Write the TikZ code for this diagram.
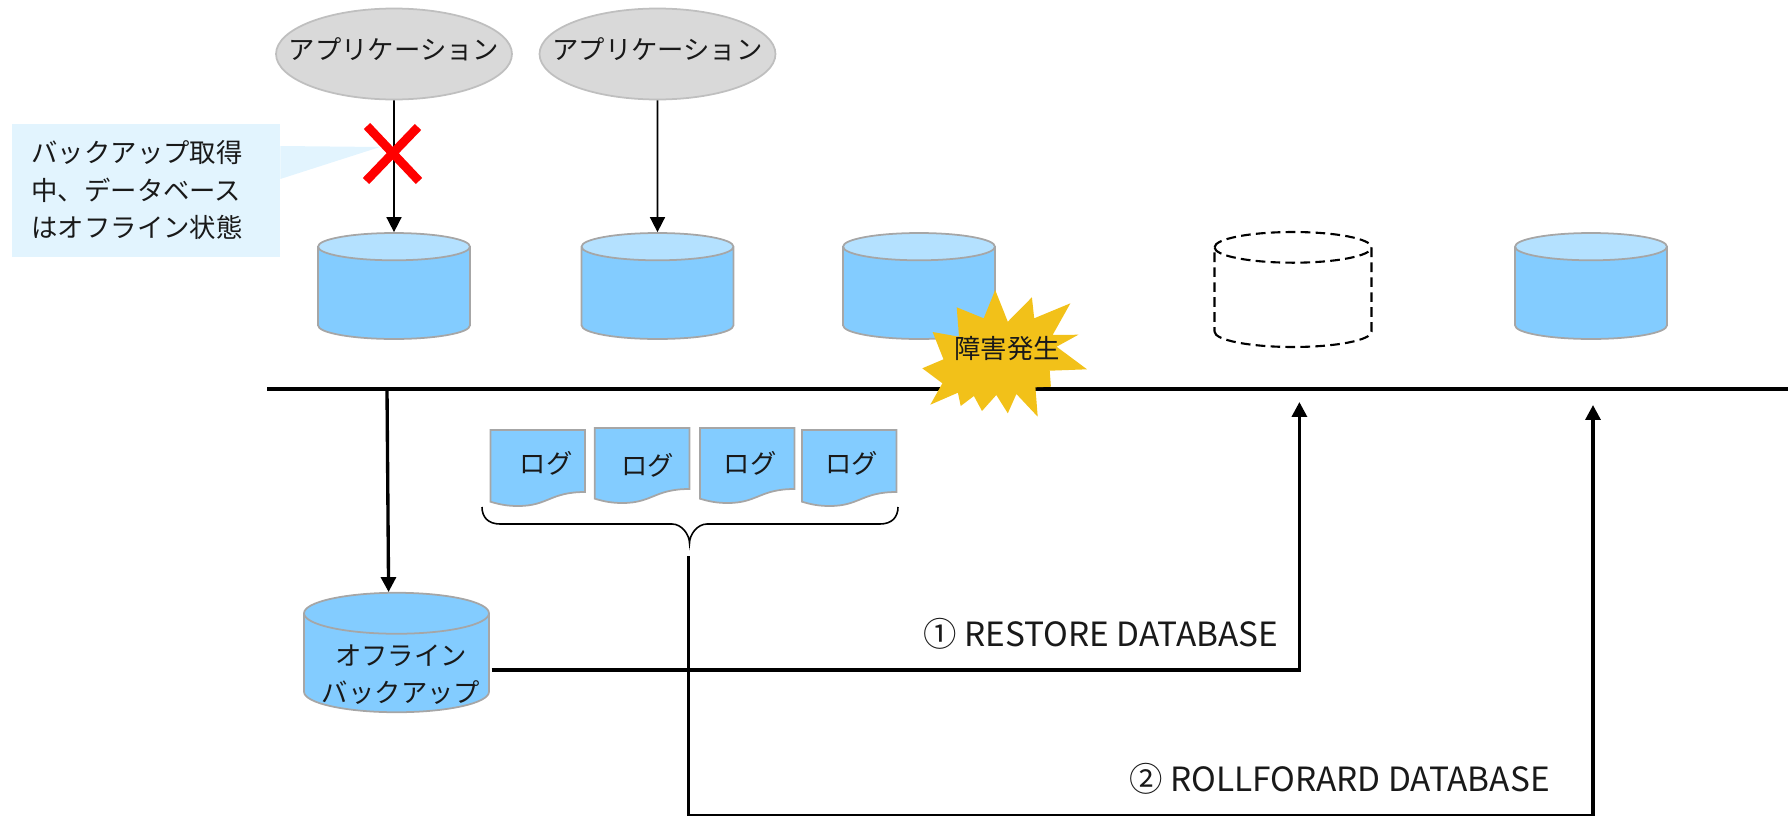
\documentclass[tikz,border=0pt]{standalone}
\usepackage{fontspec}
\setmainfont{Noto Sans CJK JP}
\usetikzlibrary{arrows.meta,shapes.geometric}
\definecolor{dbblue}{HTML}{83CCFF}
\definecolor{dbtop}{HTML}{B4E1FF}
\definecolor{dbline}{HTML}{A6A6A6}
\definecolor{appgrey}{HTML}{D9D9D9}
\definecolor{appline}{HTML}{BFBFBF}
\definecolor{noteblue}{HTML}{E2F4FE}
\definecolor{burstyellow}{HTML}{F2C119}
\begin{document}
\begin{tikzpicture}[%
    x=0.02cm,y=-0.02cm,
    txt/.style={font=\fontsize{15}{21.5}\selectfont,align=center,inner sep=0pt,text=black!90},
    biglabel/.style={font=\fontsize{19}{23}\selectfont,inner sep=0pt,text=black!90},
    app/.style={txt,ellipse,draw=appline,fill=appgrey,line width=1pt,minimum width=4.72cm,minimum height=1.82cm,inner xsep=-12.6pt,inner ysep=0pt,text depth=6pt},
    db/.style={cylinder,anchor=shape center,shape border rotate=90,shape aspect=2.33,draw=dbline,line width=1pt,cylinder uses custom fill,cylinder body fill=dbblue,cylinder end fill=dbtop,minimum width=3.04cm,minimum height=2.12cm},
    thinarrow/.style={-{Triangle[length=8.5pt,width=8.5pt]},line width=0.9pt},
    fatarrow/.style={-{Triangle[length=8.5pt,width=8.5pt]},line width=1.9pt},
    logdoc/.style={draw=dbline,fill=dbblue,line width=1pt}
  ]
		\useasboundingbox (0,0) rectangle (1788,815);

		\node at (394,54) [app] (app1) {アプリケーション};
		\node at (657.5,54) [app] (app2) {アプリケーション};

		\node at (394,286) [db] (db1) {};
		\node at (657.5,286) [db] (db2) {};
		\node at (919,286) [db] (db3) {};
		\node at (1293,289.5) [cylinder,anchor=shape center,shape border rotate=90,shape aspect=2.62,draw,dash pattern=on 5.5pt off 3pt,line width=1.2pt,minimum width=3.14cm,minimum height=2.3cm] (db4) {};
		\node at (1591,286) [db] (db5) {};

		\draw[thinarrow] (app1.south) -- (db1.north);
		\draw[thinarrow] (app2.south) -- (db2.north);

		\node at (146,190.5) [rectangle,fill=noteblue,minimum width=5.36cm,minimum height=2.66cm,inner sep=0pt] (note) {};
		\coordinate (notetip) at (380,147);
		\fill[noteblue] (note.east |- 0,146) -- (notetip) -- (note.east |- 0,179) -- cycle;
		\node at (137,190) [txt,align=left] (notetext) {バックアップ取得\\中、データベース\\はオフライン状態};

		\draw[red,line width=5pt] (367,126) -- (419,181);
		\draw[red,line width=5pt] (418,127) -- (366,181);

		\coordinate (linestart) at (267,389);
		\coordinate (lineend) at (1788,389);
		\draw[line width=2.3pt] (linestart) -- (lineend);

		\fill[burstyellow] (995.2,290) -- (1007.8,321.7) -- (1031.9,297.3) -- (1034.2,318.3) -- (1070.4,303.3) -- (1052.6,335) -- (1078.4,334.7) -- (1056.6,346.7) -- (1087,369.3) -- (1049.7,370.7) -- (1050.9,386.7) -- (1035.4,387.3) -- (1037.7,416.7) -- (1016.4,394) -- (1007.8,413.3) -- (996.3,395) -- (982,411) -- (973.9,396) -- (960.7,406) -- (957.9,392.7) -- (930.3,404.7) -- (942.4,383.3) -- (922.3,368.3) -- (943.5,359.3) -- (932.6,332) -- (959,336.7) -- (956.7,307.3) -- (983.7,318.3) -- cycle;
		\node at (1007,349) [txt] (burst) {障害発生};

		\node at (396.5,652.5) [db,shape aspect=3.5,cylinder end fill=dbblue,minimum width=3.7cm,minimum height=2.39cm] (backup) {};
		\node at (401,675) [txt] (backuptext) {オフライン\\[-0.6pt]バックアップ};

		\coordinate (backupin) at (387,389);
		\coordinate (backuptip) at (388.6,592);
		\draw[fatarrow] (backupin) -- (backuptip);

		\draw[logdoc] (490.4,430) -- ++(94.6,0) -- ++(0,62) .. controls +(-35,0) and +(30,0) .. ++(-67,14) .. controls +(-10,0) and +(10,3) .. ++(-27.6,-4.3) -- cycle;
		\draw[logdoc] (594.8,428) -- ++(94.6,0) -- ++(0,61) .. controls +(-35,0) and +(30,0) .. ++(-67,14) .. controls +(-10,0) and +(10,3) .. ++(-27.6,-4.3) -- cycle;
		\draw[logdoc] (700,428) -- ++(94.6,0) -- ++(0,61) .. controls +(-35,0) and +(30,0) .. ++(-67,14) .. controls +(-10,0) and +(10,3) .. ++(-27.6,-4.3) -- cycle;
		\draw[logdoc] (802,430) -- ++(94.6,0) -- ++(0,62) .. controls +(-35,0) and +(30,0) .. ++(-67,14) .. controls +(-10,0) and +(10,3) .. ++(-27.6,-4.3) -- cycle;
		\node at (546,463) [txt] (log1) {ログ};
		\node at (647.4,465) [txt] (log2) {ログ};
		\node at (750,463) [txt] (log3) {ログ};
		\node at (851.6,463) [txt] (log4) {ログ};

		\draw[line width=0.9pt] (482,507) .. controls +(0,10) and +(-12,0) .. (500,524) -- (672,524) .. controls +(10,0) and +(0,-8) .. (689.5,543) .. controls +(0,-8) and +(-10,0) .. (707,524) -- (880,524) .. controls +(12,0) and +(0,10) .. (898,507);

		\coordinate (restoreout) at (491.7,670);
		\coordinate (restoretip) at (1299.4,402);
		\draw[fatarrow] (restoreout) -| (restoretip);

		\coordinate (rollstart) at (688.5,556);
		\coordinate (rollcorner) at (688.5,816);
		\coordinate (rolltip) at (1593,405);
		\draw[fatarrow] (rollstart) -- (rollcorner) -| (rolltip);

		\node at (1101,634) [biglabel] (restore) {① RESTORE DATABASE};
		\node at (1339.5,779) [biglabel] (roll) {② ROLLFORARD DATABASE};
	\end{tikzpicture}
\end{document}
